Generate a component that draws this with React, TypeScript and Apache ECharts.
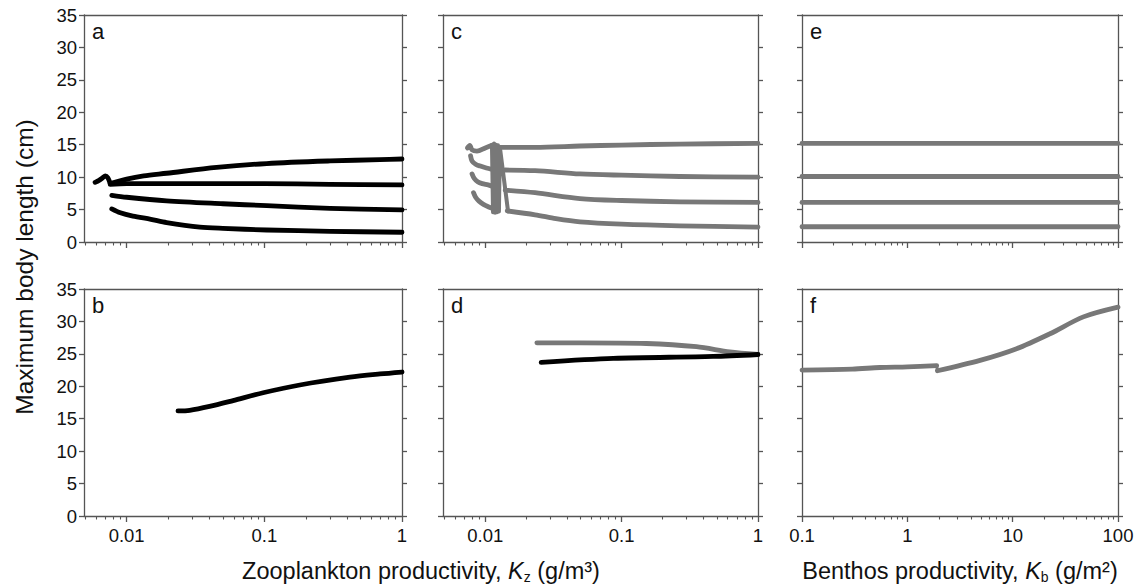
import React, { useEffect, useRef } from "react";
import * as echarts from "echarts";

const FONT = "'Liberation Sans', Arial, Helvetica, sans-serif";
const BLACK = "#000000";
const GRAY = "#787878";
const AXIS = "#555555";

// ---------- axes ----------
const yMin = 0;
const yMax = 35;
const yStep = 5;

const zooRange = [0.0049, 1];
const zooMajor = [0.01, 0.1, 1];
const zooMinor = [0.005, 0.006, 0.007, 0.008, 0.009, 0.02, 0.03, 0.04, 0.05, 0.06, 0.07, 0.08, 0.09, 0.2, 0.3, 0.4, 0.5, 0.6, 0.7, 0.8, 0.9];
const benRange = [0.1, 100];
const benMajor = [0.1, 1, 10, 100];
const benMinor = [0.2, 0.3, 0.4, 0.5, 0.6, 0.7, 0.8, 0.9, 2, 3, 4, 5, 6, 7, 8, 9, 20, 30, 40, 50, 60, 70, 80, 90];

// ---------- panel a (black) : [K_z, length] ----------
const aSquiggle: number[][] = [[0.0059, 9.2], [0.0063, 9.5], [0.0067, 9.9], [0.007, 10.2], [0.0073, 9.9], [0.0076, 9.0]];
const aUpper: number[][] = [[0.0076, 9.0], [0.01, 9.7], [0.0133, 10.2], [0.0195, 10.6], [0.045, 11.5], [0.104, 12.1], [0.3, 12.5], [0.69, 12.7], [1, 12.8]];
const aMid: number[][] = [[0.0076, 8.9], [0.01, 9.0], [0.05, 9.0], [0.1, 9.0], [0.3, 8.9], [1, 8.8]];
const aLow: number[][] = [[0.0078, 7.2], [0.01, 6.9], [0.0195, 6.35], [0.05, 5.9], [0.104, 5.6], [0.3, 5.2], [1, 4.95]];
const aBottom: number[][] = [[0.0078, 5.1], [0.009, 4.5], [0.0111, 4.0], [0.015, 3.5], [0.0195, 3.0], [0.034, 2.3], [0.05, 2.1], [0.104, 1.85], [0.3, 1.65], [1, 1.5]];

// ---------- panel b (black) ----------
const bCurve: number[][] = [[0.0236, 16.2], [0.0287, 16.3], [0.04, 16.9], [0.0593, 17.8], [0.098, 19.0], [0.181, 20.2], [0.419, 21.4], [0.692, 21.9], [1, 22.2]];

// ---------- panel c (gray) ----------
const cArc1: number[][] = [[0.0074, 14.5], [0.0077, 14.9], [0.008, 14.2], [0.0087, 14.0], [0.01, 14.5], [0.0112, 14.9]];
const cArc2: number[][] = [[0.0078, 13.3], [0.008, 12.5], [0.0085, 12.0], [0.0092, 11.7], [0.0102, 11.4], [0.0112, 11.2]];
const cArc3: number[][] = [[0.008, 10.5], [0.0083, 9.8], [0.0088, 9.3], [0.0095, 9.0], [0.0105, 8.8], [0.0112, 8.6]];
const cArc4: number[][] = [[0.0082, 7.6], [0.0085, 6.9], [0.009, 6.3], [0.0097, 5.8], [0.0106, 5.4], [0.0112, 5.2]];
const cBand: number[][] = [[0.0112, 15.0], [0.0114, 4.6], [0.0116, 15.2], [0.0118, 4.5], [0.012, 15.0], [0.0122, 4.6], [0.0124, 14.9], [0.0126, 4.7], [0.0128, 14.6], [0.0147, 4.7]];
const cRight1: number[][] = [[0.0128, 14.6], [0.0232, 14.6], [0.0495, 14.8], [0.1, 14.95], [0.267, 15.1], [1, 15.2]];
const cRight2: number[][] = [[0.014, 11.1], [0.0232, 11.0], [0.0495, 10.5], [0.1, 10.3], [0.267, 10.1], [1, 10.0]];
const cRight3: number[][] = [[0.014, 8.0], [0.0232, 7.6], [0.0495, 6.7], [0.1, 6.4], [0.267, 6.2], [1, 6.1]];
const cRight4: number[][] = [[0.0145, 4.8], [0.0232, 4.2], [0.033, 3.6], [0.0495, 3.1], [0.1, 2.75], [0.267, 2.5], [1, 2.3]];

// ---------- panel d ----------
const dGray: number[][] = [[0.0239, 26.7], [0.05, 26.7], [0.152, 26.6], [0.354, 26.1], [0.62, 25.3], [1, 24.9]];
const dBlack: number[][] = [[0.0257, 23.7], [0.0868, 24.3], [0.468, 24.6], [1, 24.9]];

// ---------- panel e (gray) : [K_b, length] ----------
const eLine1: number[][] = [[0.1, 15.2], [100, 15.2]];
const eLine2: number[][] = [[0.1, 10.1], [100, 10.1]];
const eLine3: number[][] = [[0.1, 6.1], [100, 6.1]];
const eLine4: number[][] = [[0.1, 2.35], [100, 2.35]];

// ---------- panel f (gray), pieces either side of the jump ----------
const fLeft: number[][] = [[0.1, 22.5], [0.3, 22.65], [0.55, 22.9], [1.0, 23.0], [1.9, 23.2]];
const fJump: number[][] = [[1.9, 23.2], [1.93, 22.4]];
const fRight: number[][] = [[1.93, 22.4], [4.9, 24.0], [10.9, 25.8], [22.6, 28.1], [46.9, 30.7], [100, 32.2]];

const panelLetters = ["a", "b", "c", "d", "e", "f"];

const lg = (v: number) => Math.log10(v);
const fmtLog = (v: number) => {
  const k = Math.pow(10, v);
  return k >= 1 ? String(Math.round(k)) : String(Number(k.toPrecision(1)));
};

export default function App() {
  const ref = useRef<HTMLDivElement>(null);

  useEffect(() => {
    if (!ref.current) return;
    const chart = echarts.init(ref.current, undefined, { renderer: "svg" });

    const grids = [
      { left: 84, top: 15, width: 318, height: 227 },
      { left: 84, top: 289, width: 318, height: 227 },
      { left: 443, top: 15, width: 315, height: 227 },
      { left: 443, top: 289, width: 315, height: 227 },
      { left: 802, top: 15, width: 316, height: 227 },
      { left: 802, top: 289, width: 316, height: 227 },
    ];

    const lineStyle = { color: AXIS, width: 1.3 };
    const xAxes: any[] = [];
    const yAxes: any[] = [];
    grids.forEach((g, i) => {
      const benthos = i >= 4;
      const range = benthos ? benRange : zooRange;
      const major = benthos ? benMajor : zooMajor;
      const minor = benthos ? benMinor : zooMinor;
      const showX = i % 2 === 1;
      const showY = i < 2;
      const min = lg(range[0]);
      const max = lg(range[1]);
      xAxes.push({
        type: "value", gridIndex: i, position: "bottom", min, max,
        axisLine: { show: true, onZero: false, lineStyle },
        axisTick: { show: true, length: 6, customValues: major.map(lg), lineStyle },
        axisLabel: { show: showX, customValues: major.map(lg), formatter: fmtLog, color: "#111", fontSize: 18.5, fontFamily: FONT, margin: 10 },
        splitLine: { show: false },
      });
      xAxes.push({
        type: "value", gridIndex: i, position: "bottom", min, max,
        axisLine: { show: false, onZero: false },
        axisTick: { show: true, length: 3.5, customValues: minor.map(lg), lineStyle: { color: AXIS, width: 1.1 } },
        axisLabel: { show: false },
        splitLine: { show: false },
      });
      xAxes.push({
        type: "value", gridIndex: i, position: "top", min, max,
        axisLine: { show: true, onZero: false, lineStyle },
        axisTick: { show: false },
        axisLabel: { show: false },
        splitLine: { show: false },
      });
      yAxes.push({
        type: "value", gridIndex: i, position: "left", min: yMin, max: yMax, interval: yStep,
        axisLine: { show: true, onZero: false, lineStyle },
        axisTick: { show: true, length: 5, lineStyle },
        axisLabel: { show: showY, color: "#111", fontSize: 18.5, fontFamily: FONT, margin: 7 },
        splitLine: { show: false },
      });
      yAxes.push({
        type: "value", gridIndex: i, position: "right", min: yMin, max: yMax, interval: yStep,
        axisLine: { show: true, onZero: false, lineStyle },
        axisTick: { show: true, length: 5, lineStyle },
        axisLabel: { show: false },
        splitLine: { show: false },
      });
    });

    const series: any[] = [];
    const add = (panel: number, data: number[][], color: string, smooth = true, width = 4.8) => {
      series.push({
        type: "line",
        xAxisIndex: panel * 3,
        yAxisIndex: panel * 2,
        data: data.map((d) => [lg(d[0]), d[1]]),
        symbol: "none",
        showSymbol: false,
        silent: true,
        smooth: smooth ? 0.3 : false,
        lineStyle: { color, width, cap: "round", join: "round" },
      });
    };
    [aSquiggle, aUpper, aMid, aLow, aBottom].forEach((d) => add(0, d, BLACK));
    add(1, bCurve, BLACK);
    [cArc1, cArc2, cArc3, cArc4].forEach((d) => add(2, d, GRAY));
    add(2, cBand, GRAY, false, 4);
    [cRight1, cRight2, cRight3, cRight4].forEach((d) => add(2, d, GRAY));
    add(3, dGray, GRAY);
    add(3, dBlack, BLACK);
    [eLine1, eLine2, eLine3, eLine4].forEach((d) => add(4, d, GRAY, false));
    add(5, fLeft, GRAY);
    add(5, fJump, GRAY, false, 3);
    add(5, fRight, GRAY);

    const graphics: any[] = grids.map((g, i) => ({
      type: "text",
      left: g.left + 8,
      top: g.top + 5,
      silent: true,
      style: { text: panelLetters[i], fontSize: 22, fontFamily: FONT, fill: "#111" },
    }));

    const rich = {
      n: { fontSize: 23.5, fontFamily: FONT, color: "#111", lineHeight: 26 },
      it: { fontSize: 23.5, fontFamily: FONT, fontStyle: "italic", color: "#111", lineHeight: 26 },
      sub: { fontSize: 14, fontFamily: FONT, color: "#111", verticalAlign: "bottom", lineHeight: 7 },
    };
    graphics.push({
      type: "text",
      x: 421,
      y: 571,
      silent: true,
      style: {
        text: "{n|Zooplankton productivity, }{it|K}{sub|z}{n| (g/m³)}",
        rich,
        align: "center",
        verticalAlign: "middle",
        font: `23.5px ${FONT}`,
        fill: "#111",
      },
    });
    graphics.push({
      type: "text",
      x: 960,
      y: 571,
      silent: true,
      style: {
        text: "{n|Benthos productivity, }{it|K}{sub|b}{n| (g/m²)}",
        rich,
        align: "center",
        verticalAlign: "middle",
        font: `23.5px ${FONT}`,
        fill: "#111",
      },
    });
    graphics.push({
      type: "text",
      x: 24,
      y: 267,
      rotation: Math.PI / 2,
      silent: true,
      style: {
        text: "Maximum body length (cm)",
        align: "center",
        verticalAlign: "middle",
        font: `24.5px ${FONT}`,
        fill: "#111",
      },
    });

    chart.setOption({
      animation: false,
      backgroundColor: "#ffffff",
      grid: grids.map((g) => ({ ...g, containLabel: false, outerBoundsMode: "none" })),
      xAxis: xAxes,
      yAxis: yAxes,
      series,
      graphic: graphics,
    });

    return () => chart.dispose();
  }, []);

  return (
    <div
      ref={ref}
      style={{ position: "fixed", left: 0, top: 0, width: 1137, height: 584, background: "#fff" }}
    />
  );
}
